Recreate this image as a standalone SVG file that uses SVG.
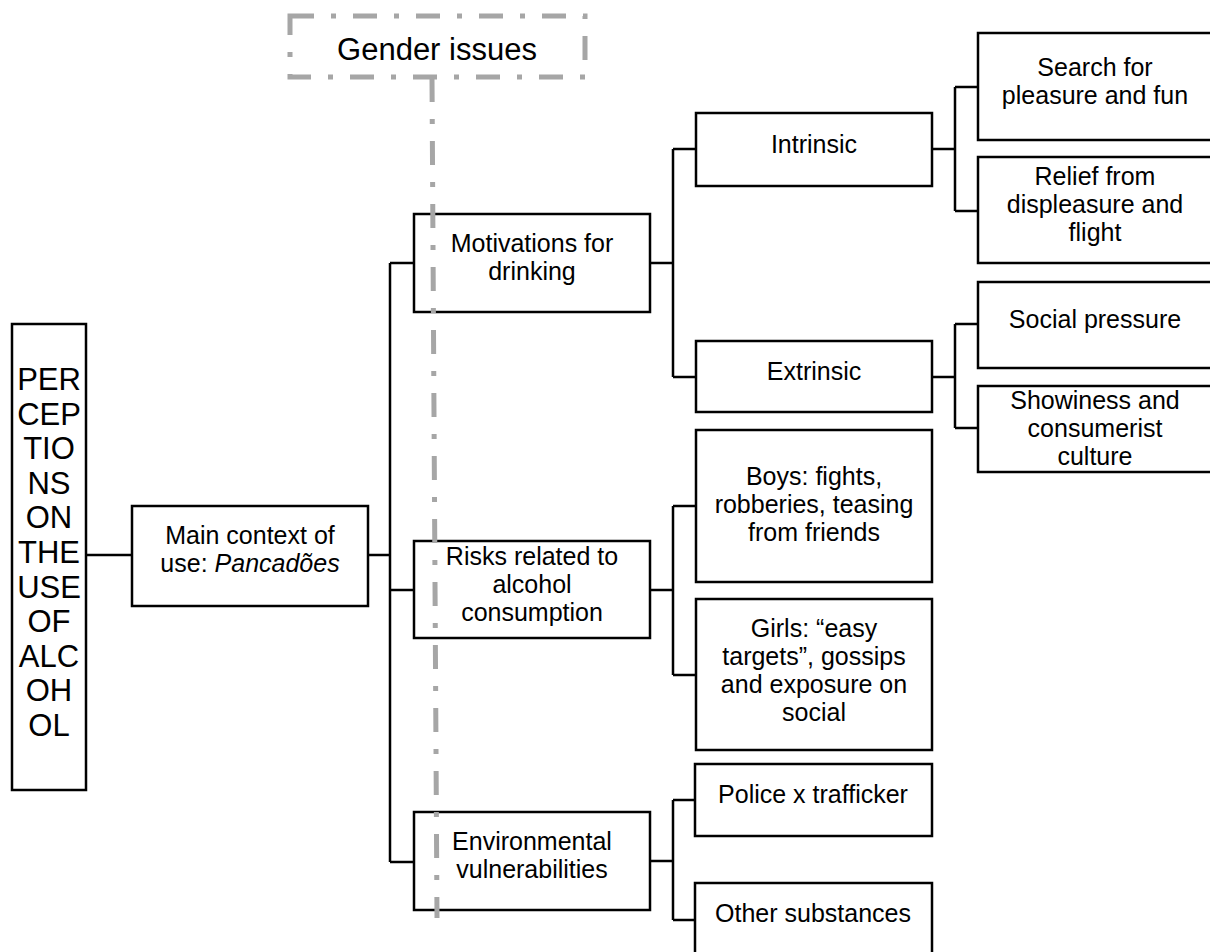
<svg xmlns="http://www.w3.org/2000/svg" width="1210" height="952" viewBox="0 0 1210 952">
<style>
.box{fill:#fff;stroke:#000;stroke-width:2.5}
.t{font-family:"Liberation Sans",Arial,sans-serif;font-size:25px;fill:#000;text-anchor:middle}
.big{font-size:31px}
.g{font-size:31px}
.c{fill:none;stroke:#000;stroke-width:2.5}
.gd{fill:none;stroke:#a6a6a6;stroke-width:5;stroke-dasharray:24 17 5 17}
</style>
<rect width="1210" height="952" fill="#fff"/>
<g id="connectors">
<path class="c" d="M86 555H132M368 555H390M390 263V862M390 263H414M390 590H414M390 862H414"/>
<path class="c" d="M650 263H673M673 149V377M673 149H696M673 377H696"/>
<path class="c" d="M932 149H955M955 87V211M955 87H978M955 211H978"/>
<path class="c" d="M932 377H955M955 324V428M955 324H978M955 428H978"/>
<path class="c" d="M650 590H673M673 506V675M673 506H696M673 675H696"/>
<path class="c" d="M650 861H673M673 800V920M673 800H695M673 920H695"/>
</g>
<g id="root">
<rect class="box" x="12" y="324" width="74" height="466"/>
<text class="t big"><tspan x="49" y="390">PER</tspan><tspan x="49" y="424.6">CEP</tspan><tspan x="49" y="459.2">TIO</tspan><tspan x="49" y="493.8">NS</tspan><tspan x="49" y="528.4">ON</tspan><tspan x="49" y="563">THE</tspan><tspan x="49" y="597.6">USE</tspan><tspan x="49" y="632.2">OF</tspan><tspan x="49" y="666.8">ALC</tspan><tspan x="49" y="701.4">OH</tspan><tspan x="49" y="736">OL</tspan></text>
</g>
<g id="main-context">
<rect class="box" x="132" y="506" width="236" height="100"/>
<text class="t"><tspan x="250" y="544">Main context of</tspan><tspan x="250" y="572">use: <tspan font-style="italic">Pancadões</tspan></tspan></text>
</g>
<g id="motivations">
<rect class="box" x="414" y="214" width="236" height="98"/>
<text class="t"><tspan x="532" y="252">Motivations for</tspan><tspan x="532" y="280">drinking</tspan></text>
</g>
<g id="risks">
<rect class="box" x="414" y="541" width="236" height="97"/>
<text class="t"><tspan x="532" y="565">Risks related to</tspan><tspan x="532" y="593">alcohol</tspan><tspan x="532" y="621">consumption</tspan></text>
</g>
<g id="environmental">
<rect class="box" x="414" y="812" width="236" height="98"/>
<text class="t"><tspan x="532" y="850">Environmental</tspan><tspan x="532" y="878">vulnerabilities</tspan></text>
</g>
<g id="intrinsic">
<rect class="box" x="696" y="113" width="236" height="73"/>
<text class="t" x="814" y="153">Intrinsic</text>
</g>
<g id="extrinsic">
<rect class="box" x="696" y="341" width="236" height="71"/>
<text class="t" x="814" y="380">Extrinsic</text>
</g>
<g id="boys">
<rect class="box" x="696" y="430" width="236" height="152"/>
<text class="t"><tspan x="814" y="485">Boys: fights,</tspan><tspan x="814" y="513">robberies, teasing</tspan><tspan x="814" y="541">from friends</tspan></text>
</g>
<g id="girls">
<rect class="box" x="696" y="599" width="236" height="151"/>
<text class="t"><tspan x="814" y="637">Girls: “easy</tspan><tspan x="814" y="665">targets”, gossips</tspan><tspan x="814" y="693">and exposure on</tspan><tspan x="814" y="721">social</tspan></text>
</g>
<g id="police">
<rect class="box" x="695" y="764" width="237" height="72"/>
<text class="t" x="813" y="803">Police x trafficker</text>
</g>
<g id="other">
<rect class="box" x="695" y="883" width="237" height="80"/>
<text class="t" x="813" y="922">Other substances</text>
</g>
<g id="search">
<rect class="box" x="978" y="33" width="234" height="107"/>
<text class="t"><tspan x="1095" y="76">Search for</tspan><tspan x="1095" y="104">pleasure and fun</tspan></text>
</g>
<g id="relief">
<rect class="box" x="978" y="157" width="234" height="106"/>
<text class="t"><tspan x="1095" y="185">Relief from</tspan><tspan x="1095" y="213">displeasure and</tspan><tspan x="1095" y="241">flight</tspan></text>
</g>
<g id="social">
<rect class="box" x="978" y="282" width="234" height="86"/>
<text class="t" x="1095" y="328">Social pressure</text>
</g>
<g id="showiness">
<rect class="box" x="978" y="386" width="234" height="86"/>
<text class="t"><tspan x="1095" y="409">Showiness and</tspan><tspan x="1095" y="437">consumerist</tspan><tspan x="1095" y="465">culture</tspan></text>
</g>
<g id="gender">
<rect class="gd" x="290" y="16" width="295" height="61"/>
<path class="gd" d="M432 78L437 918"/>
<text class="t g" x="437" y="60">Gender issues</text>
</g>
</svg>
